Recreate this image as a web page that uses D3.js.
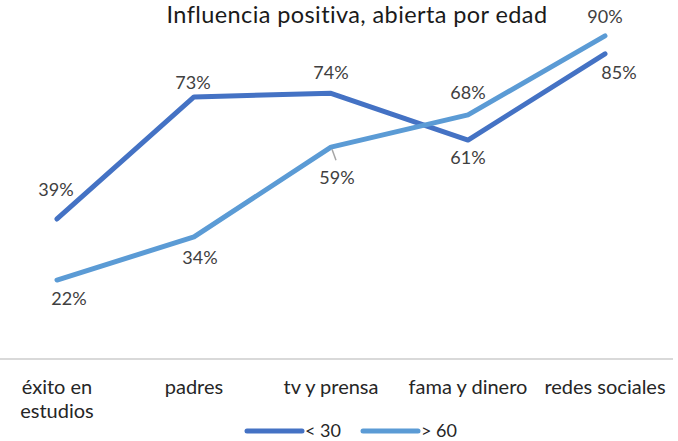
<!DOCTYPE html>
<html>
<head>
<meta charset="utf-8">
<script src="https://cdn.jsdelivr.net/npm/d3@7"></script>
<style>
  html, body { margin: 0; padding: 0; background: #fff; }
  svg { display: block; font-family: Lato, "Open Sans", sans-serif; }
</style>
</head>
<body>
<svg id="chart"></svg>
<script>
const title = 'Influencia positiva, abierta por edad';
const categories = ['éxito en estudios', 'padres', 'tv y prensa', 'fama y dinero', 'redes sociales'];
const seriesNames = ['< 30', '> 60'];
const under30 = [39, 73, 74, 61, 85];
const over60 = [22, 34, 59, 68, 90];

const W = 678, H = 441;
const colors = ['#4472c4', '#5b9bd5'];
// label offsets from each point (Excel placed them by hand)
const labelOffsets = [
  [[-1, -29], [-1, -14], [0, -21], [0, 18], [14, 19]],
  [[12, 19], [6, 21], [6, 31], [0, -22], [0, -19]]
];

const svg = d3.select('#chart').attr('width', W).attr('height', H);

const x = d3.scalePoint().domain(categories).range([57, 605]);
const y = d3.scaleLinear().domain([0, 100]).range([359, 0]);

svg.append('text')
  .attr('x', 357).attr('y', 23)
  .attr('text-anchor', 'middle')
  .attr('font-size', 23.5)
  .attr('letter-spacing', 0.4)
  .attr('fill', '#1a1a1a')
  .text(title);

// baseline axis
const xAxis = svg.append('g')
  .attr('transform', `translate(0,${y(0)})`)
  .call(d3.axisBottom(x).tickSize(0).tickFormat(''));
xAxis.select('.domain').remove();
xAxis.append('line')
  .attr('x1', 0).attr('x2', 673)
  .attr('stroke', '#d9d9d9').attr('stroke-width', 2);

// category labels, wrapped like excel
const catLabel = svg.append('g').selectAll('text')
  .data(categories)
  .join('text')
  .attr('x', d => x(d))
  .attr('y', 394)
  .attr('text-anchor', 'middle')
  .attr('font-size', 20)
  .attr('fill', '#262626');
catLabel.each(function (d) {
  const lines = d === 'éxito en estudios' ? ['éxito en', 'estudios'] : [d];
  d3.select(this).selectAll('tspan')
    .data(lines)
    .join('tspan')
    .attr('x', x(d))
    .attr('dy', (l, i) => i ? 24 : 0)
    .text(l => l);
});

const line = d3.line()
  .x((d, i) => x(categories[i]))
  .y(d => y(d));

const series = [under30, over60];

series.forEach((vals, s) => {
  svg.append('path')
    .datum(vals)
    .attr('d', line)
    .attr('fill', 'none')
    .attr('stroke', colors[s])
    .attr('stroke-width', 5)
    .attr('stroke-linecap', 'round')
    .attr('stroke-linejoin', 'round');
});

// leader line for 59%
svg.append('line')
  .attr('x1', x(categories[2]) + 1).attr('y1', y(over60[2]) + 2)
  .attr('x2', x(categories[2]) + 5).attr('y2', y(over60[2]) + 13)
  .attr('stroke', '#a6a6a6').attr('stroke-width', 1.5);

series.forEach((vals, s) => {
  svg.append('g').selectAll('text')
    .data(vals)
    .join('text')
    .attr('x', (d, i) => x(categories[i]) + labelOffsets[s][i][0])
    .attr('y', (d, i) => y(d) + labelOffsets[s][i][1])
    .attr('dy', '0.35em')
    .attr('text-anchor', 'middle')
    .attr('font-size', 18)
    .attr('fill', '#404040')
    .text(d => d + '%');
});

// legend
const legend = svg.append('g').attr('transform', 'translate(0,431)');
const legendX = [247, 363];
seriesNames.forEach((name, s) => {
  legend.append('line')
    .attr('x1', legendX[s]).attr('x2', legendX[s] + 55)
    .attr('stroke', colors[s]).attr('stroke-width', 5)
    .attr('stroke-linecap', 'round');
  legend.append('text')
    .attr('x', legendX[s] + 58)
    .attr('dy', '0.35em')
    .attr('font-size', 18)
    .attr('fill', '#262626')
    .text(name);
});
</script>
</body>
</html>
